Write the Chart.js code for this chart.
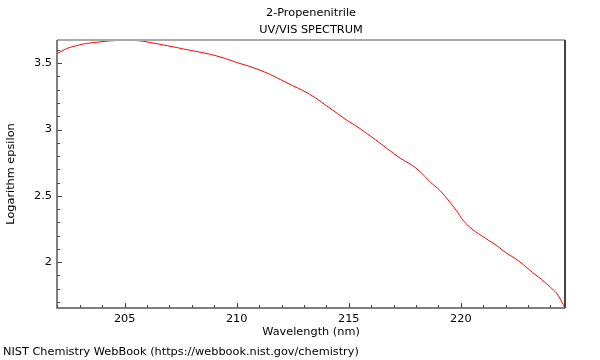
<!DOCTYPE html>
<html>
<head>
<meta charset="utf-8">
<script src="https://cdn.jsdelivr.net/npm/chart.js@4.4.0/dist/chart.umd.min.js"></script>
<style>
  html, body { margin: 0; padding: 0; background: #fff; }
  #wrap { width: 600px; height: 360px; }
</style>
</head>
<body>
<div id="wrap"><canvas id="chart-area" width="600" height="360"></canvas></div>
<script>
// spectrum
var wavelength = [202.0, 202.4, 202.8, 203.1, 203.5, 203.9, 204.3, 204.7, 205.0, 205.4,
  205.8, 206.1, 206.5, 206.9, 207.3, 207.6, 208.0, 208.4, 208.8, 209.5,
  210.0, 210.5, 211.0, 211.5, 212.0, 212.5, 213.0, 213.5, 214.0, 214.5,
  214.9, 215.3, 215.7, 216.2, 216.7, 217.3, 217.8, 218.2, 218.6, 219.1,
  219.5, 219.8, 220.1, 220.5, 221.1, 221.6, 222.0, 222.4, 222.8, 223.2,
  223.6, 224.0, 224.3, 224.65];
var logEps = [3.573, 3.610, 3.630, 3.643, 3.653, 3.661, 3.668, 3.672, 3.674, 3.672,
  3.666, 3.657, 3.645, 3.632, 3.619, 3.608, 3.595, 3.582, 3.568, 3.535,
  3.505, 3.480, 3.450, 3.415, 3.372, 3.330, 3.290, 3.240, 3.180, 3.120,
  3.071, 3.030, 2.983, 2.922, 2.858, 2.783, 2.733, 2.680, 2.610, 2.535,
  2.455, 2.390, 2.315, 2.250, 2.180, 2.125, 2.072, 2.030, 1.980, 1.922,
  1.870, 1.810, 1.760, 1.654];

var titleLines = ['2-Propenenitrile', 'UV/VIS SPECTRUM'];
var footerText = 'NIST Chemistry WebBook (https://webbook.nist.gov/chemistry)';

var FONT = 'DejaVu Sans';
var FSIZE = 11.3;

var points = [];
for (var i = 0; i < wavelength.length; i++) {
  points.push({x: wavelength[i], y: logEps[i]});
}

// frame, inward ticks, title and footer
var framePlugin = {
  id: 'frame',
  afterDraw: function(chart) {
    var ctx = chart.ctx;
    var a = chart.chartArea;
    var xs = chart.scales.x, ys = chart.scales.y;
    ctx.save();

    // ticks
    ctx.strokeStyle = '#444';
    ctx.lineWidth = 1;
    ctx.beginPath();
    var v, px, len;
    for (v = Math.ceil(xs.min); v <= xs.max; v++) {
      px = Math.round(xs.getPixelForValue(v)) + 0.5;
      len = (v % 5 === 0) ? 5 : 3;
      ctx.moveTo(px, a.bottom);
      ctx.lineTo(px, a.bottom - len);
    }
    for (var k = Math.ceil(ys.min * 10); k <= ys.max * 10; k++) {
      px = Math.round(ys.getPixelForValue(k / 10)) + 0.5;
      len = (k % 5 === 0) ? 5 : 3;
      ctx.moveTo(a.left, px);
      ctx.lineTo(a.left + len, px);
    }
    ctx.stroke();

    // borders
    ctx.lineWidth = 2;
    ctx.strokeStyle = '#aaa';
    ctx.beginPath();
    ctx.moveTo(a.left, a.top);
    ctx.lineTo(a.right, a.top);
    ctx.stroke();
    ctx.strokeStyle = '#444';
    ctx.beginPath();
    ctx.moveTo(a.right, a.top);
    ctx.lineTo(a.right, a.bottom);
    ctx.stroke();
    ctx.lineWidth = 1.5;
    ctx.strokeStyle = '#555';
    ctx.beginPath();
    ctx.moveTo(a.left, a.top);
    ctx.lineTo(a.left, a.bottom);
    ctx.lineTo(a.right, a.bottom);
    ctx.stroke();

    // title
    ctx.fillStyle = '#000';
    ctx.font = FSIZE + 'px "' + FONT + '"';
    ctx.textAlign = 'center';
    ctx.textBaseline = 'middle';
    var cx = (a.left + a.right) / 2;
    ctx.fillText(titleLines[0], cx, 13);
    ctx.fillText(titleLines[1], cx, 30);

    // footer
    ctx.textAlign = 'left';
    ctx.fillText(footerText, 3, 352);
    ctx.restore();
  }
};

var config = {
  type: 'line',
  data: {
    datasets: [{
      data: points,
      borderColor: '#ff0000',
      borderWidth: 1,
      pointRadius: 0,
      cubicInterpolationMode: 'monotone',
      fill: false
    }]
  },
  options: {
    responsive: false,
    animation: false,
    layout: { padding: { top: 40, left: 0, right: 35, bottom: 20 } },
    plugins: {
      legend: { display: false },
      title: { display: false },
      tooltip: { enabled: false }
    },
    scales: {
      x: {
        type: 'linear',
        position: 'bottom',
        min: 201.98,
        max: 224.65,
        grid: { display: false, drawTicks: false },
        border: { display: false },
        ticks: {
          stepSize: 5,
          includeBounds: false,
          autoSkip: false,
          maxRotation: 0,
          padding: 4,
          color: '#000',
          font: { family: FONT, size: FSIZE },
          callback: function(v) { return String(v); }
        },
        title: {
          display: true,
          text: 'Wavelength (nm)',
          color: '#000',
          font: { family: FONT, size: FSIZE },
          padding: { top: 0, bottom: 1 }
        },
        afterFit: function(scale) { scale.height = 32; }
      },
      y: {
        type: 'linear',
        min: 1.654,
        max: 3.675,
        grid: { display: false, drawTicks: false },
        border: { display: false },
        ticks: {
          stepSize: 0.5,
          includeBounds: false,
          padding: 5,
          color: '#000',
          font: { family: FONT, size: FSIZE },
          callback: function(v) { return String(v); }
        },
        title: {
          display: true,
          text: 'Logarithm epsilon',
          color: '#000',
          font: { family: FONT, size: FSIZE },
          padding: { top: 4, bottom: 0 }
        },
        afterFit: function(scale) { scale.width = 57; }
      }
    }
  },
  plugins: [framePlugin]
};

var ctx = document.getElementById('chart-area').getContext('2d');
window.myChart = new Chart(ctx, config);
</script>
</body>
</html>
